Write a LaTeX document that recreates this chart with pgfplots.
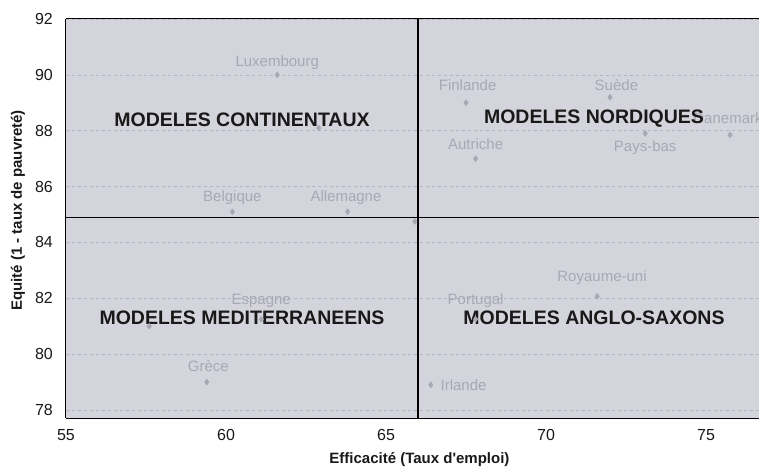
\documentclass[border=0pt]{standalone}
\usepackage{fontspec}
\setmainfont{Liberation Sans}
\usepackage{pgfplots}
\pgfplotsset{compat=1.18}
\definecolor{bg}{RGB}{212,212,220}
\definecolor{faint}{RGB}{168,168,178}
\definecolor{gridc}{RGB}{180,180,190}
\definecolor{ink}{RGB}{25,25,25}
\begin{document}
\begin{tikzpicture}
\begin{axis}[
  scale only axis, width=693pt, height=399pt,
  xmin=55, xmax=76.656, ymin=77.714, ymax=92,
  xtick={55,60,...,75}, ytick={78,80,...,92},
  axis background/.style={fill=bg},
  axis x line*=box, axis y line*=left,
  axis line style={-, black, line width=1pt},
  major tick length=0pt,
  ymajorgrids, grid style={gridc, dashed, line width=0.6pt},
  /pgf/number format/assume math mode=true,
  ticklabel style={font=\fontsize{16}{18}\selectfont, text=ink},
  xticklabel style={anchor=center, inner sep=0pt, yshift=-17pt},
  yticklabel style={anchor=east, inner sep=0pt, xshift=-13pt},
  xlabel={Efficacité (Taux d\textquotesingle emploi)},
  ylabel={Equité (1 - taux de pauvreté)},
  xlabel style={at={(axis description cs:0.51,0)}, anchor=center, yshift=-42pt, font=\fontsize{15}{17}\selectfont\bfseries, text=ink},
  ylabel style={at={(axis description cs:0,0.52)}, anchor=center, yshift=48pt, font=\fontsize{15}{17}\selectfont\bfseries, text=ink},
  clip=false,
]
\coordinate (SW) at (rel axis cs:0,0);
\coordinate (NE) at (rel axis cs:1,1);
% country points
\addplot[only marks, mark=diamond*, mark size=3pt, color=faint] coordinates {
  (61.6,90.0) (60.2,85.1) (63.8,85.1) (62.9,88.1)
  (67.5,89.0) (72.0,89.2) (67.8,87.0) (73.1,87.9) (75.75,87.85)
  (71.6,82.07) (67.8,81.25) (61.1,81.25) (57.6,81.0)
  (59.4,79.0) (66.4,78.9) (65.9,84.75)
};
% quadrant lines
\addplot[black, line width=1.2pt] coordinates {(66,77.714) (66,92)};
\addplot[black, line width=1.2pt] coordinates {(55,84.9) (76.656,84.9)};
% country labels
\begin{scope}[every node/.style={font=\fontsize{15}{17}\selectfont, text=faint, inner sep=0pt}]
\node at (axis cs:61.6,90.45) {Luxembourg};
\node at (axis cs:60.2,85.62) {Belgique};
\node at (axis cs:63.75,85.62) {Allemagne};
\node at (axis cs:67.55,89.64) {Finlande};
\node at (axis cs:72.2,89.64) {Suède};
\node at (axis cs:67.8,87.52) {Autriche};
\node at (axis cs:73.1,87.39) {Pays-bas};
\node[anchor=west] at (axis cs:74.6,88.46) {Danemark};
\node at (axis cs:71.75,82.75) {Royaume-uni};
\node at (axis cs:67.8,81.9) {Portugal};
\node at (axis cs:61.1,81.9) {Espagne};
\node at (axis cs:59.45,79.57) {Grèce};
\node[anchor=west] at (axis cs:66.7,78.9) {Irlande};
\end{scope}
% region labels
\begin{scope}[every node/.style={font=\fontsize{19.5}{21}\selectfont\bfseries, text=ink, inner sep=0pt}]
\node at (axis cs:60.5,88.4) {MODELES CONTINENTAUX};
\node at (axis cs:71.5,88.43) {MODELES NORDIQUES};
\node at (axis cs:60.5,81.32) {MODELES MEDITERRANEENS};
\node at (axis cs:71.5,81.32) {MODELES ANGLO-SAXONS};
\end{scope}
\end{axis}
\path (SW) ++(-66pt,-51pt) coordinate (BL);
\path (NE) ++(0pt,19pt) coordinate (TR);
\pgfresetboundingbox
\useasboundingbox (BL) rectangle (TR);
\end{tikzpicture}
\end{document}
